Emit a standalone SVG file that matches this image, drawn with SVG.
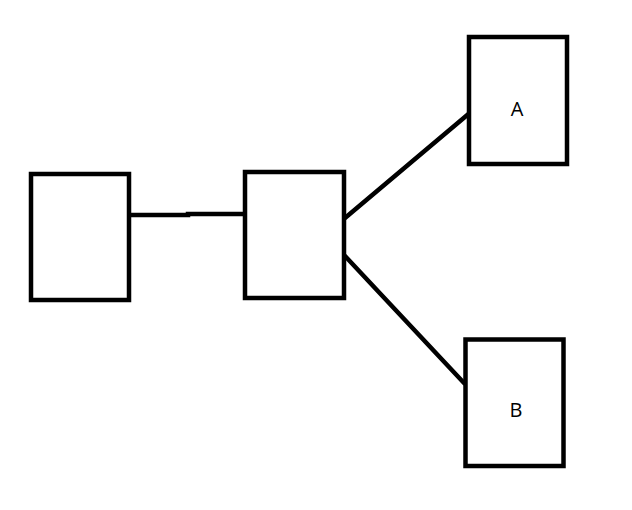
<svg xmlns="http://www.w3.org/2000/svg" width="632" height="510" viewBox="0 0 632 510">
<style>
.box{fill:#fff;stroke:#000;stroke-width:4.5}
.edge{stroke:#000;stroke-width:4.5;fill:none;stroke-linecap:round}
.lbl{font-family:"Open Sans","DejaVu Sans",sans-serif;font-size:20px;fill:#000;text-anchor:middle}
</style>
<rect width="632" height="510" fill="#fff"/>
<g id="connectors">
<path class="edge" d="M131 215 L188 215 L188 214 L247 214"/>
<path class="edge" d="M345 218 L472 111"/>
<path class="edge" d="M345 256 L464 383"/>
</g>
<g id="node1"><rect class="box" x="31" y="174" width="98" height="126"/></g>
<g id="node2"><rect class="box" x="245" y="172" width="99" height="126"/></g>
<g id="nodeA"><rect class="box" x="469" y="37" width="98" height="127"/><text class="lbl" x="517" y="116">A</text></g>
<g id="nodeB"><rect class="box" x="465.5" y="339.5" width="98" height="126.5"/><text class="lbl" x="516" y="417">B</text></g>
</svg>
